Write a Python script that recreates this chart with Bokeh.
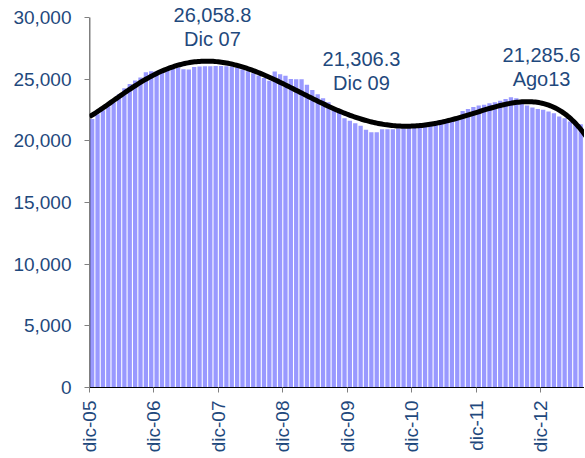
import numpy as np
from bokeh.plotting import figure
from bokeh.models import ColumnDataSource, Range1d, FixedTicker, Label
from bokeh.embed import file_html
from bokeh.resources import INLINE

# ---- data ----
values = [
    21760, 22160, 22480, 22800, 23120, 23780, 24270, 24600, 24890, 25130,
    25570, 25650, 25650, 25760, 25880, 25950, 25950, 25810, 25780, 25980,
    26030, 26040, 26050, 26060, 26058.8, 26050, 26000, 25900, 25780, 25640,
    25470, 25300, 25100, 24880, 25620, 25400, 25270, 25020, 25000, 25000,
    24540, 24130, 23780, 23460, 23130, 22750, 22320, 21840, 21620, 21430,
    21216, 20890, 20700, 20700, 20946, 20946, 20946, 21000, 21000, 21030,
    21050, 21100, 21160, 21270, 21380, 21490, 21540, 21650, 21760, 22410,
    22590, 22750, 22860, 22920, 23050, 23130, 23240, 23400, 23540, 23460,
    23300, 22860, 22700, 22590, 22510, 22380, 22240, 21970, 21840, 21570,
    21430, 21350, 21285.6,
]
tick_months = [0, 12, 24, 36, 48, 60, 72, 84]
tick_labels = ["dic-05", "dic-06", "dic-07", "dic-08", "dic-09", "dic-10", "dic-11", "dic-12"]
y_ticks = [0, 5000, 10000, 15000, 20000, 25000, 30000]

ann_text = ["26,058.8", "Dic 07", "21,306.3", "Dic 09", "21,285.6", "Ago13"]
ann_x = [22.9, 22.9, 50.65, 50.65, 84.2, 84.2]
ann_y = [30180, 28270, 26610, 24705, 26935, 25050]

TXT = "#1F497D"
FONT = "Liberation Sans"

idx = np.arange(len(values))
centers = idx + 0.5
src = ColumnDataSource(dict(x=centers, top=values))

X0, X1 = 0, 92.2
p = figure(width=584, height=457, output_backend="svg", toolbar_location=None,
           x_range=Range1d(X0, X1), y_range=Range1d(0, 31216),
           min_border_left=89, min_border_right=0, min_border_top=2, min_border_bottom=70)
p.outline_line_color = None
p.xgrid.visible = False
p.ygrid.visible = False
p.background_fill_color = "white"

p.vbar(x="x", top="top", width=0.8, bottom=0, source=src,
       fill_color="#9999FF", line_color=None)

# polynomial trendline (order 6) fitted to the monthly series
coef = np.polyfit(centers, np.array(values, dtype=float), 6)
xs = np.linspace(0, 93, 300)
p.line(xs, np.polyval(coef, xs), line_color="black", line_width=5, line_join="round")

# vertical axis line only up to the top tick
p.segment(x0=[X0], y0=[min(y_ticks)], x1=[X0], y1=[max(y_ticks)], line_color="black", line_width=1.5)

for t, xv, yv in zip(ann_text, ann_x, ann_y):
    p.add_layout(Label(x=xv, y=yv, text=t, text_align="center", text_baseline="middle",
                       text_font=FONT, text_font_size="20px", text_color=TXT))

p.xaxis.ticker = FixedTicker(ticks=tick_months)
p.xaxis.major_label_overrides = {m: l for m, l in zip(tick_months, tick_labels)}
p.xaxis.major_label_orientation = np.pi / 2
p.xaxis.minor_tick_line_color = None
p.xaxis.major_tick_in = 0
p.xaxis.major_tick_out = 5
p.xaxis.major_tick_line_color = "#808080"
p.xaxis.axis_line_color = "black"
p.xaxis.major_label_standoff = 8
p.xaxis.major_label_text_font = FONT
p.xaxis.major_label_text_font_size = "19px"
p.xaxis.major_label_text_color = TXT

p.yaxis.ticker = FixedTicker(ticks=y_ticks)
p.yaxis.major_label_overrides = {v: f"{v:,}" for v in y_ticks}
p.yaxis.minor_tick_line_color = None
p.yaxis.major_tick_in = 0
p.yaxis.major_tick_out = 5
p.yaxis.major_tick_line_color = "#808080"
p.yaxis.axis_line_color = None
p.yaxis.major_label_standoff = 13
p.yaxis.major_label_text_font = FONT
p.yaxis.major_label_text_font_size = "19px"
p.yaxis.major_label_text_color = TXT

open("out.html", "w").write(file_html(p, INLINE))
